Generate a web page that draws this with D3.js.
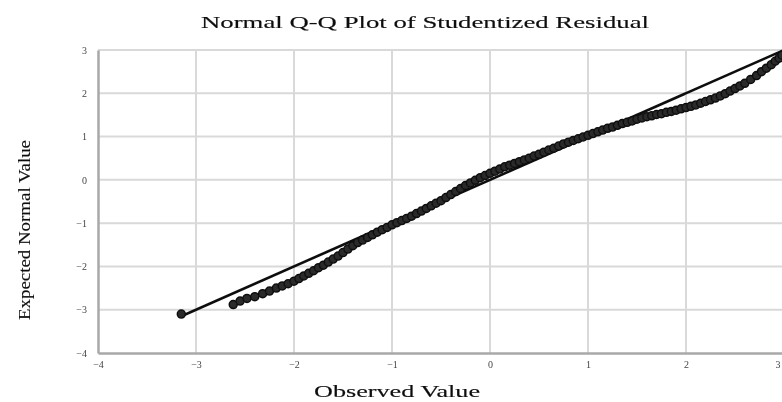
<!DOCTYPE html>
<html>
<head>
<meta charset="utf-8">
<script src="https://cdn.jsdelivr.net/npm/d3@7"></script>
<style>
  body { margin: 0; background: #fff; }
  svg { display: block; }
</style>
</head>
<body>
<svg></svg>
<script>
// datos de la gráfica Q-Q (valor observado vs valor normal esperado)
let observed = [-3.15, -2.62, -2.55, -2.48, -2.40, -2.32, -2.25, -2.18, -2.12, -2.06,
  -2.00, -1.95, -1.90, -1.85, -1.80, -1.75, -1.70, -1.65, -1.60, -1.55,
  -1.50, -1.45, -1.40, -1.35, -1.30, -1.25, -1.20, -1.15, -1.10, -1.05,
  -1.00, -0.95, -0.90, -0.85, -0.80, -0.75, -0.70, -0.65, -0.60, -0.55,
  -0.50, -0.45, -0.40, -0.35, -0.30, -0.25, -0.20, -0.15, -0.10, -0.05,
  0.00, 0.05, 0.10, 0.15, 0.20, 0.25, 0.30, 0.35, 0.40, 0.45,
  0.50, 0.55, 0.60, 0.65, 0.70, 0.75, 0.80, 0.85, 0.90, 0.95,
  1.00, 1.05, 1.10, 1.15, 1.20, 1.25, 1.30, 1.35, 1.40, 1.45,
  1.50, 1.55, 1.60, 1.65, 1.70, 1.75, 1.80, 1.85, 1.90, 1.95,
  2.00, 2.05, 2.10, 2.15, 2.20, 2.25, 2.30, 2.35, 2.40, 2.45,
  2.50, 2.55, 2.60, 2.66, 2.72, 2.77, 2.82, 2.87, 2.91, 2.95, 2.98];

let expected = [-3.10, -2.88, -2.80, -2.74, -2.70, -2.63, -2.57, -2.50, -2.45, -2.40,
  -2.34, -2.28, -2.22, -2.16, -2.10, -2.03, -1.97, -1.90, -1.83, -1.76,
  -1.68, -1.60, -1.52, -1.45, -1.39, -1.33, -1.27, -1.21, -1.15, -1.10,
  -1.04, -0.99, -0.94, -0.89, -0.84, -0.78, -0.72, -0.66, -0.60, -0.54,
  -0.48, -0.41, -0.34, -0.27, -0.20, -0.13, -0.07, -0.01, 0.05, 0.10,
  0.15, 0.20, 0.25, 0.30, 0.34, 0.38, 0.42, 0.46, 0.50, 0.55,
  0.59, 0.64, 0.69, 0.73, 0.78, 0.83, 0.87, 0.91, 0.95, 0.99,
  1.03, 1.07, 1.11, 1.15, 1.19, 1.22, 1.26, 1.30, 1.33, 1.36,
  1.40, 1.43, 1.46, 1.48, 1.51, 1.53, 1.56, 1.58, 1.61, 1.64,
  1.67, 1.70, 1.73, 1.77, 1.81, 1.85, 1.89, 1.94, 1.99, 2.05,
  2.11, 2.17, 2.23, 2.32, 2.41, 2.50, 2.58, 2.66, 2.74, 2.81, 2.88];

// linea de referencia (y = x)
let refLine = [-3.15, 3.05];

let xTicks = [-4, -3, -2, -1, 0, 1, 2, 3];
let yTicks = [-4, -3, -2, -1, 0, 1, 2, 3];

let svgWidth = 782;
let svgHeight = 402;

let svg = d3.select('svg')
  .attr("width", svgWidth)
  .attr("height", svgHeight);

// un poco de desenfoque para parecerse a la imagen original
svg.append("defs").append("filter")
  .attr("id", "blur")
  .append("feGaussianBlur")
  .attr("stdDeviation", 0.7);

let x = d3.scaleLinear().domain([-4, 3]).range([98, 784]);
let y = d3.scaleLinear().domain([-4, 3]).range([353, 50]);

let g = svg.append("g").attr("filter", "url(#blur)");

// rejilla
g.selectAll(".vgrid")
  .data(xTicks.slice(1))
  .enter()
  .append("line")
  .attr("x1", d => x(d)).attr("x2", d => x(d))
  .attr("y1", y(3)).attr("y2", y(-4))
  .attr("stroke", "#d9d9d9")
  .attr("stroke-width", 2);

g.selectAll(".hgrid")
  .data(yTicks.slice(1))
  .enter()
  .append("line")
  .attr("x1", x(-4)).attr("x2", svgWidth)
  .attr("y1", d => y(d)).attr("y2", d => y(d))
  .attr("stroke", "#d9d9d9")
  .attr("stroke-width", 2);

// ejes con d3.axis, sin lineas de tick
let xAxis = g.append("g")
  .attr("transform", "translate(0," + y(-4) + ")")
  .call(d3.axisBottom(x).tickValues(xTicks).tickSize(0).tickPadding(8).tickFormat(d3.format("d")));

let yAxis = g.append("g")
  .attr("transform", "translate(" + x(-4) + ",0)")
  .call(d3.axisLeft(y).tickValues(yTicks).tickSize(0).tickPadding(11).tickFormat(d3.format("d")));

[xAxis, yAxis].forEach(function (a) {
  a.select(".domain").attr("stroke", "#a8a8a8").attr("stroke-width", 2.5);
  a.selectAll("text")
    .attr("fill", "#444")
    .style("font-family", "'Liberation Serif', serif")
    .style("font-size", "10px");
});

// el ultimo tick del eje x queda en el borde, lo metemos un poco
xAxis.selectAll(".tick")
  .filter(d => d === 3)
  .select("text")
  .attr("text-anchor", "end")
  .attr("dx", -4);

// linea de referencia
g.append("line")
  .attr("x1", x(refLine[0])).attr("y1", y(refLine[0]))
  .attr("x2", x(refLine[1])).attr("y2", y(refLine[1]))
  .attr("stroke", "#111")
  .attr("stroke-width", 2.6);

// puntos
g.selectAll("circle")
  .data(observed)
  .enter()
  .append("circle")
  .attr("cx", d => x(d))
  .attr("cy", (d, i) => y(expected[i]))
  .attr("r", 4)
  .attr("fill", "#2a2a2a")
  .attr("stroke", "#111")
  .attr("stroke-width", 1.5);

// titulos
let titleStyle = function (t) {
  t.style("font-family", "'Liberation Serif', serif")
    .style("font-size", "17px")
    .attr("fill", "#111")
    .attr("stroke", "#111")
    .attr("stroke-width", 0.15)
    .attr("lengthAdjust", "spacingAndGlyphs")
    .attr("text-anchor", "middle");
};

g.append("text")
  .attr("x", 425).attr("y", 28)
  .attr("textLength", 448)
  .call(titleStyle)
  .text("Normal  Q-Q Plot of Studentized  Residual");

g.append("text")
  .attr("x", 397).attr("y", 397)
  .attr("textLength", 166)
  .call(titleStyle)
  .text("Observed Value");

g.append("text")
  .attr("transform", "translate(30,230) rotate(-90)")
  .attr("textLength", 180)
  .call(titleStyle)
  .text("Expected Normal Value");
</script>
</body>
</html>
